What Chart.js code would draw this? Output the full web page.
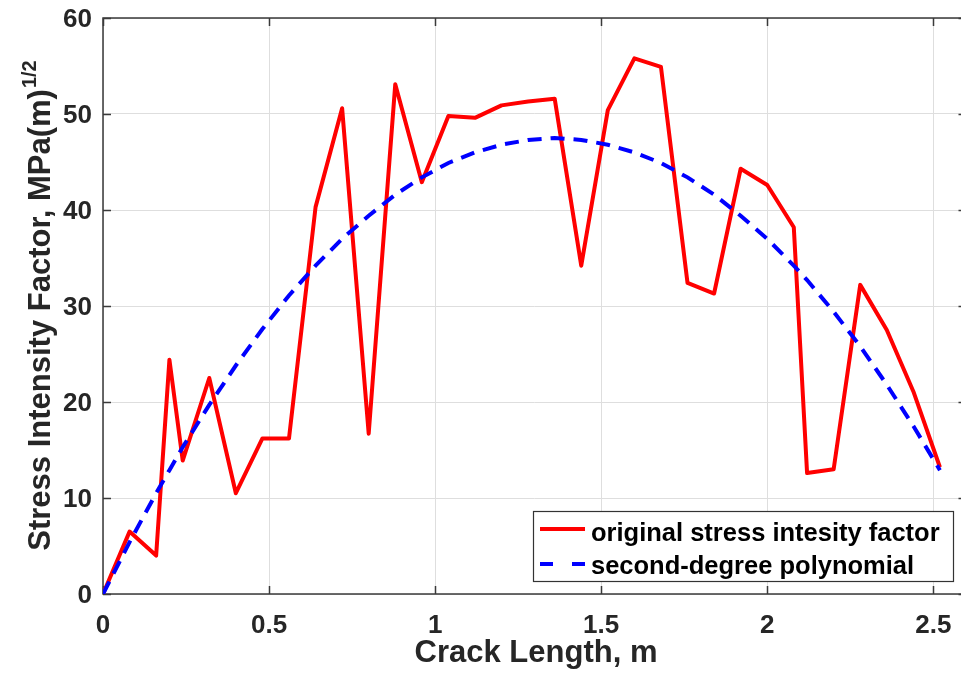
<!DOCTYPE html>
<html>
<head>
<meta charset="utf-8">
<script src="https://cdn.jsdelivr.net/npm/chart.js@4.4.1/dist/chart.umd.min.js"></script>
<style>
  html, body { margin: 0; padding: 0; background: #fff; overflow: hidden; }
  canvas { display: block; }
</style>
</head>
<body>
<canvas id="sifChart" width="970" height="681"></canvas>
<script>
// crack length (m) and stress intensity factor values
const crackLength = [0, 0.08, 0.16, 0.2, 0.24, 0.32, 0.4, 0.48, 0.56, 0.64, 0.72, 0.8, 0.88, 0.96,
  1.04, 1.12, 1.2, 1.28, 1.36, 1.44, 1.52, 1.6, 1.68, 1.76, 1.84, 1.92, 2.0, 2.08, 2.12, 2.2,
  2.28, 2.36, 2.44, 2.52];
const sifOriginal = [0, 6.5, 4.0, 24.4, 13.9, 22.5, 10.5, 16.2, 16.2, 40.3, 50.6, 16.7, 53.1, 42.9,
  49.8, 49.6, 50.9, 51.3, 51.6, 34.2, 50.4, 55.8, 54.9, 32.4, 31.3, 44.3, 42.6, 38.2, 12.6, 13.0,
  32.2, 27.5, 21.1, 13.2];
const sifPoly = [0, 5.4, 10.5, 12.9, 15.3, 19.7, 23.8, 27.6, 31.1, 34.2, 37.0, 39.4, 41.6, 43.4,
  44.9, 46.0, 46.8, 47.3, 47.5, 47.3, 46.8, 46.0, 44.9, 43.4, 41.6, 39.4, 37.0, 34.2, 32.7, 29.4,
  25.8, 21.8, 17.5, 12.9];

const xTicks = [0, 0.5, 1, 1.5, 2, 2.5];
const xTickLabels = ['0', '0.5', '1', '1.5', '2', '2.5'];
const yTicks = [0, 10, 20, 30, 40, 50, 60];
const yTickLabels = ['0', '10', '20', '30', '40', '50', '60'];

const seriesNames = ['original stress intesity factor', 'second-degree polynomial'];
const xTitle = 'Crack Length, m';
const yTitle = 'Stress Intensity Factor, MPa(m)';
const yTitleSup = '1/2';

const FONT = '"Liberation Sans", Arial, sans-serif';
const INK = '#262626';
const RED = '#ff0000';
const BLUE = '#0000ff';
const DASH = [14, 9];

// box, inward tick marks, axis titles and the legend
const matlabAxes = {
  id: 'matlabAxes',
  beforeDatasetsDraw(chart) {
    const { ctx, chartArea: a, scales } = chart;
    ctx.save();
    ctx.strokeStyle = '#3a3a3a';
    ctx.lineWidth = 1.5;
    ctx.strokeRect(a.left, a.top, a.right - a.left, a.bottom - a.top);
    ctx.beginPath();
    xTicks.forEach(v => {
      const x = Math.round(scales.x.getPixelForValue(v)) + 0.5;
      ctx.moveTo(x, a.bottom); ctx.lineTo(x, a.bottom - 8);
      ctx.moveTo(x, a.top); ctx.lineTo(x, a.top + 8);
    });
    yTicks.forEach(v => {
      const y = Math.round(scales.y.getPixelForValue(v)) + 0.5;
      ctx.moveTo(a.left, y); ctx.lineTo(a.left + 8, y);
      ctx.moveTo(a.right, y); ctx.lineTo(a.right - 8, y);
    });
    ctx.stroke();
    ctx.restore();
  },
  afterDraw(chart) {
    const { ctx, chartArea: a } = chart;
    ctx.save();
    ctx.fillStyle = INK;

    // x title
    ctx.font = 'bold 31px ' + FONT;
    ctx.textAlign = 'center';
    ctx.textBaseline = 'alphabetic';
    ctx.fillText(xTitle, 536, 662);

    // y title with superscript
    ctx.font = 'bold 31px ' + FONT;
    const mainW = ctx.measureText(yTitle).width;
    ctx.font = 'bold 20px ' + FONT;
    const supW = ctx.measureText(yTitleSup).width;
    ctx.translate(50, (a.top + a.bottom) / 2);
    ctx.rotate(-Math.PI / 2);
    ctx.textAlign = 'left';
    const start = -(mainW + supW) / 2;
    ctx.font = 'bold 31px ' + FONT;
    ctx.fillText(yTitle, start, 0);
    ctx.font = 'bold 20px ' + FONT;
    ctx.fillText(yTitleSup, start + mainW + 1, -14);
    ctx.restore();

    // legend
    ctx.save();
    const bx = 533.5, by = 511.5, bw = 420, bh = 70;
    ctx.fillStyle = '#fff';
    ctx.fillRect(bx, by, bw, bh);
    ctx.strokeStyle = '#333';
    ctx.lineWidth = 1.2;
    ctx.strokeRect(bx, by, bw, bh);

    ctx.lineWidth = 4;
    ctx.strokeStyle = RED;
    ctx.beginPath(); ctx.moveTo(540, 529); ctx.lineTo(585, 529); ctx.stroke();
    ctx.strokeStyle = BLUE;
    ctx.setLineDash([13, 19]);
    ctx.beginPath(); ctx.moveTo(540, 564); ctx.lineTo(586, 564); ctx.stroke();
    ctx.setLineDash([]);

    ctx.fillStyle = '#000';
    ctx.font = 'bold 25.5px ' + FONT;
    ctx.textAlign = 'left';
    ctx.textBaseline = 'alphabetic';
    ctx.fillText(seriesNames[0], 591, 541);
    ctx.fillText(seriesNames[1], 591, 574);
    ctx.restore();
  }
};

const toPoints = ys => crackLength.map((x, i) => ({ x: x, y: ys[i] }));

new Chart(document.getElementById('sifChart'), {
  type: 'scatter',
  data: {
    datasets: [
      {
        label: seriesNames[0],
        data: toPoints(sifOriginal),
        showLine: true,
        borderColor: RED,
        borderWidth: 4,
        pointRadius: 0,
        tension: 0,
        borderJoinStyle: 'round',
        order: 1
      },
      {
        label: seriesNames[1],
        data: toPoints(sifPoly),
        showLine: true,
        borderColor: BLUE,
        borderWidth: 4,
        borderDash: DASH,
        pointRadius: 0,
        tension: 0,
        order: 0
      }
    ]
  },
  options: {
    responsive: false,
    animation: false,
    events: [],
    layout: { padding: { top: 18, right: 3.5, left: 0, bottom: 0 } },
    plugins: {
      legend: { display: false },
      tooltip: { enabled: false }
    },
    scales: {
      x: {
        type: 'linear',
        min: 0,
        max: 2.6,
        afterBuildTicks: s => { s.ticks = xTicks.map(v => ({ value: v })); },
        afterFit: s => {
          s.height = 87;
          s.paddingLeft = 0; s.paddingRight = 0;
        },
        ticks: {
          callback: (v, i) => xTickLabels[i],
          font: { family: FONT, size: 26, weight: 'bold' },
          color: INK,
          padding: 16,
          maxRotation: 0,
          autoSkip: false
        },
        grid: { color: '#dedede', lineWidth: 1, drawTicks: false },
        border: { display: false }
      },
      y: {
        type: 'linear',
        min: 0,
        max: 60,
        afterBuildTicks: s => { s.ticks = yTicks.map(v => ({ value: v })); },
        afterFit: s => {
          s.width = 103;
          s.paddingTop = 0; s.paddingBottom = 0;
        },
        ticks: {
          callback: (v, i) => yTickLabels[i],
          font: { family: FONT, size: 26, weight: 'bold' },
          color: INK,
          padding: 11,
          labelOffset: 2
        },
        grid: { color: '#dedede', lineWidth: 1, drawTicks: false },
        border: { display: false }
      }
    }
  },
  plugins: [matlabAxes]
});
</script>
</body>
</html>
